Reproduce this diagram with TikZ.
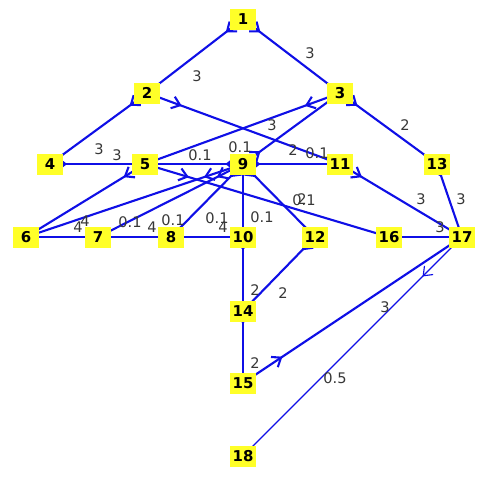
\documentclass[tikz,border=0pt]{standalone}
\usepackage{fontspec}
\setmainfont{DejaVu Sans}
\usetikzlibrary{arrows.meta,decorations.markings,backgrounds}
\definecolor{nodeyellow}{RGB}{255,255,40}
\definecolor{arcblue}{RGB}{15,15,230}
\definecolor{wgray}{RGB}{55,55,55}

\begin{document}
\begin{tikzpicture}[
      x=0.02cm, y=-0.02cm,
      vertex/.style={rectangle, fill=nodeyellow, inner sep=0pt, minimum width=0.54cm, minimum height=0.42cm, font=\fontsize{8.5}{10}\selectfont\bfseries},
      weight/.style={inner sep=0pt, text=wgray, font=\fontsize{8.3}{10}\selectfont},
      arc/.style={arcblue, line width=1.2pt, postaction={decorate}, decoration={markings, mark=at position 0.18 with {\arrow{Straight Barb[length=4.5pt,width=7pt]}}}},
      thinarc/.style={arc, line width=0.65pt}
    ]
      \useasboundingbox (0,0) rectangle (491,485);

      % vertices
      \node[vertex] (n1) at (243,19) {1};
      \node[vertex] (n2) at (147,93) {2};
      \node[vertex] (n3) at (340,93) {3};
      \node[vertex] (n4) at (50,164) {4};
      \node[vertex] (n5) at (145,164) {5};
      \node[vertex] (n9) at (243,164) {9};
      \node[vertex] (n11) at (340,164) {11};
      \node[vertex] (n13) at (437,164) {13};
      \node[vertex] (n6) at (26,237) {6};
      \node[vertex] (n7) at (98,237) {7};
      \node[vertex] (n8) at (171,237) {8};
      \node[vertex] (n10) at (243,237) {10};
      \node[vertex] (n12) at (315,237) {12};
      \node[vertex] (n16) at (389,237) {16};
      \node[vertex] (n17) at (462,237) {17};
      \node[vertex] (n14) at (243,311) {14};
      \node[vertex] (n15) at (243,383) {15};
      \node[vertex] (n18) at (243,456) {18};

      % arcs under the vertices
      \begin{pgfonlayer}{background}
        \draw[arc] (n1.center) -- (n2.center);
        \draw[arc] (n1.center) -- (n3.center);
        \draw[arc] (n2.center) -- (n4.center);
        \draw[arc] (n2.center) -- (n11.center);
        \draw[arc] (n3.center) -- (n5.center);
        \draw[arc] (n9.center) -- (n3.center);
        \draw[arc] (n3.center) -- (n13.center);
        \draw[arc] (n4.center) -- (n5.center);
        \draw[arc] (n9.center) -- (n5.center);
        \draw[arc] (n9.center) -- (n11.center);
        \draw[arc] (n5.center) -- (n16.center);
        \draw[arc] (n5.center) -- (n6.center);
        \draw[arc] (n9.center) -- (n6.center);
        \draw[arc] (n9.center) -- (n7.center);
        \draw[arc] (n9.center) -- (n8.center);
        \draw[arc] (n9.center) -- (n10.center);
        \draw[arc] (n9.center) -- (n12.center);
        \draw[arc] (n6.center) -- (n7.center);
        \draw[arc] (n7.center) -- (n8.center);
        \draw[arc] (n10.center) -- (n8.center);
        \draw[arc] (n10.center) -- (n14.center);
        \draw[arc] (n12.center) -- (n14.center);
        \draw[arc] (n14.center) -- (n15.center);
        \draw[arc] (n15.center) -- (n17.center);
        \draw[thinarc] (n17.center) -- (n18.center);
        \draw[arc] (n11.center) -- (n17.center);
        \draw[arc] (n13.center) -- (n17.center);
        \draw[arc] (n17.center) -- (n16.center);
      \end{pgfonlayer}

      % weights
      \node[weight] (w1) at (197,76) {3};
      \node[weight] (w2) at (310,53) {3};
      \node[weight] (w3) at (272,125) {3};
      \node[weight] (w4) at (99,149) {3};
      \node[weight] (w5) at (117,155) {3};
      \node[weight] (w6) at (405,125) {2};
      \node[weight] (w7) at (200,155) {0.1};
      \node[weight] (w8) at (240,147) {0.1};
      \node[weight] (w9) at (293,150) {2};
      \node[weight] (w10) at (317,153) {0.1};
      \node[weight] (w11) at (304,200) {0.1};
      \node[weight] (w12) at (302,199) {2};
      \node[weight] (w13) at (262,217) {0.1};
      \node[weight] (w14) at (78,227) {4};
      \node[weight] (w15) at (85,221) {4};
      \node[weight] (w16) at (130,222) {0.1};
      \node[weight] (w17) at (152,227) {4};
      \node[weight] (w18) at (173,220) {0.1};
      \node[weight] (w19) at (217,218) {0.1};
      \node[weight] (w20) at (223,227) {4};
      \node[weight] (w21) at (421,199) {3};
      \node[weight] (w22) at (461,199) {3};
      \node[weight] (w23) at (440,227) {3};
      \node[weight] (w24) at (255,290) {2};
      \node[weight] (w25) at (283,293) {2};
      \node[weight] (w26) at (255,363) {2};
      \node[weight] (w27) at (385,307) {3};
      \node[weight] (w28) at (335,378) {0.5};
    \end{tikzpicture}
\end{document}
